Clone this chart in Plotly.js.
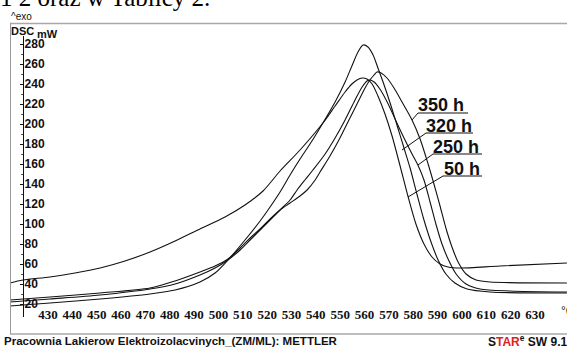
<!DOCTYPE html>
<html><head><meta charset="utf-8">
<script src="https://cdn.plot.ly/plotly-3.0.1.min.js"></script>
<style>html,body{margin:0;padding:0;background:#fff;overflow:hidden}#chart{width:567px;height:347px}</style>
</head><body><div id="chart"></div>
<script>
// ---- data (temperature °C, DSC mW) ----
const temp50  = [414.4,419.7,430.8,441.1,451.4,461.6,471.9,482.2,492.4,502.7,510.9,518.3,525.3,533.5,542.9,547.9,552.0,554.8,556.9,559.0,561.0,563.1,565.5,568.4,571.3,574.6,577.8,581.1,584.4,587.7,591.0,594.3,599.2,615.6,643.1];
const dsc50   = [41,44,47,51,56,63,72,83,95,107,119,133,153,174,201,218,232,240,244,246,245,240,228,210,188,158,128,100,80,67,60,57,56,58,61];
const temp320 = [414.4,430.8,451.4,471.9,482.2,492.4,498.6,503.9,510.9,517.1,521.2,525.3,529.4,533.5,538.4,542.9,547.9,552.0,554.8,557.3,559.4,561.4,563.5,565.5,567.6,570.5,573.3,576.2,578.7,581.5,584.4,587.3,590.2,593.4,597.1,602.1,611.5,643.1];
const dsc320  = [18,21,25,30,34,42,51,64,84,103,117,132,149,165,183,201,222,242,258,272,279,277,269,256,242,221,199,176,156,130,104,82,64,50,41,35,32,31];
const temp250 = [414.4,430.8,451.4,471.9,482.2,492.4,498.6,503.9,508.9,513.0,517.1,521.2,525.3,529.4,532.3,535.5,538.8,543.8,547.9,552.0,556.1,559.0,561.0,562.2,563.9,566.3,569.7,572.9,576.2,579.5,581.9,584.4,586.9,589.3,591.8,594.3,597.6,601.7,607.4,619.7,643.1];
const dsc250  = [22,25,29,35,40,49,56,64,74,84,94,104,114,124,134,144,154,170,186,204,224,237,243,244,242,235,220,203,186,170,159,144,122,100,80,65,50,40,35,33,32];
const temp350 = [414.4,430.8,451.4,471.9,482.2,492.4,498.6,503.9,508.9,513.0,517.1,521.2,525.3,529.4,533.5,536.4,539.7,541.7,545.8,549.9,554.0,557.3,560.2,562.2,563.9,565.1,566.8,569.2,572.1,575.4,579.5,582.8,586.1,588.5,591.0,593.4,595.9,598.4,601.7,605.8,611.5,643.1];
const dsc350  = [24,27,31,36,43,52,58,65,76,86,95,105,114,121,128,134,144,152,168,186,206,222,236,244,249,252,251,246,236,222,204,185,160,140,118,96,77,62,50,44,42,41];
const seriesNames = ['50 h','320 h','250 h','350 h'];
const xTicks = [430,440,450,460,470,480,490,500,510,520,530,540,550,560,570,580,590,600,610,620,630];
const yTicks = [20,40,60,80,100,120,140,160,180,200,220,240,260,280];
const minTicks = [40,41,42,43,44,45,46,47,48,49,50,51,52,53,54,55,56,57,58,59,60,61];

const W=567,H=347;
const px=x=>x/W, py=y=>1-y/H;

const line={color:'#111',width:1.1,shape:'spline',smoothing:0.8};
const traces=[[temp50,dsc50],[temp320,dsc320],[temp250,dsc250],[temp350,dsc350]].map((d,i)=>({
  x:d[0],y:d[1],type:'scatter',mode:'lines',name:seriesNames[i],line:line,hoverinfo:'skip'
}));

// label positions (pixel) : text centre, underline, leader end
const labs=[
  {t:'350 h',cx:441,cy:105,u0:418,u1:468,uy:113,lx:412,ly:120},
  {t:'320 h',cx:449,cy:126,u0:426,u1:473,uy:133,lx:402,ly:150},
  {t:'250 h',cx:456,cy:147,u0:433,u1:482,uy:154,lx:418,ly:165},
  {t:'50 h', cx:462,cy:169,u0:443,u1:482,uy:176,lx:408,ly:197}
];
const shapes=[
  {type:'line',xref:'paper',yref:'paper',x0:px(10),x1:1,y0:py(23.5),y1:py(23.5),line:{color:'#a8a8a8',width:1.6}},
  {type:'line',xref:'paper',yref:'paper',x0:px(10.5),x1:px(10.5),y0:py(23.5),y1:py(334),line:{color:'#9a9a9a',width:1}},
  {type:'line',xref:'paper',yref:'paper',x0:px(10),x1:1,y0:py(334),y1:py(334),line:{color:'#a8a8a8',width:1.4}}
];
const ann=[];
labs.forEach(l=>{
  shapes.push({type:'path',xref:'paper',yref:'paper',
    path:`M ${px(l.u1)} ${py(l.uy)} L ${px(l.u0)} ${py(l.uy)} L ${px(l.lx)} ${py(l.ly)}`,
    line:{color:'#111',width:1}});
  ann.push({text:l.t,xref:'paper',yref:'paper',x:px(l.cx),y:py(l.cy),showarrow:false,xanchor:'center',yanchor:'middle',
    font:{family:'Liberation Sans, Arial',size:18,weight:'bold',color:'#111'}});
});
ann.push(
  {text:'1 2 oraz w Tablicy 2.',xref:'paper',yref:'paper',x:px(-2),y:py(13),xanchor:'left',yanchor:'bottom',showarrow:false,
   font:{family:'Liberation Serif, Times New Roman',size:25,color:'#000'}},
  {text:'^exo',xref:'paper',yref:'paper',x:px(9),y:py(16),xanchor:'left',yanchor:'middle',showarrow:false,
   font:{family:'Liberation Sans, Arial',size:10,color:'#111'}},
  {text:'<b>DSC</b>',xref:'paper',yref:'paper',x:px(9),y:py(31),xanchor:'left',yanchor:'middle',showarrow:false,
   font:{family:'Liberation Sans, Arial',size:11,color:'#111'}},
  {text:'<b>mW</b>',xref:'paper',yref:'paper',x:px(35),y:py(34),xanchor:'left',yanchor:'middle',showarrow:false,
   font:{family:'Liberation Sans, Arial',size:11,color:'#111'}},
  {text:'°C',xref:'paper',yref:'paper',x:px(559),y:py(311),xanchor:'left',yanchor:'middle',showarrow:false,
   font:{family:'Liberation Sans, Arial',size:12,color:'#111'}},
  {text:'Pracownia Lakierow Elektroizolacvinych_(ZM/ML): METTLER',xref:'paper',yref:'paper',x:px(2),y:py(341),xanchor:'left',yanchor:'middle',showarrow:false,
   font:{family:'Liberation Sans, Arial',size:11.5,weight:'bold',color:'#111'}},
  {text:'S<span style="color:#e0201a">TAR</span><sup>e</sup> SW 9.1',xref:'paper',yref:'paper',x:1.003,y:py(341),xanchor:'right',yanchor:'middle',showarrow:false,
   font:{family:'Liberation Sans, Arial',size:12,weight:'bold',color:'#111'}}
);

const layout={
  width:W,height:H,margin:{l:0,r:0,t:0,b:0},paper_bgcolor:'#fff',plot_bgcolor:'rgba(0,0,0,0)',showlegend:false,
  xaxis:{domain:[px(10),1],range:[414.39,643.14],anchor:'y',showgrid:false,zeroline:false,showline:false,
    tickvals:xTicks,ticks:'',ticklabelstandoff:-12,
    tickfont:{family:'Liberation Sans Narrow, Arial Narrow',size:13,weight:'bold',color:'#111'}},
  xaxis2:{overlaying:'x',domain:[px(10),1],range:[38.95,61.45],anchor:'free',position:py(325),side:'bottom',
    showgrid:false,zeroline:false,showline:true,linecolor:'#999',linewidth:1,
    tickvals:minTicks,ticks:'outside',ticklen:3,tickcolor:'#777',
    minor:{dtick:0.1,ticks:'outside',ticklen:1.5,tickcolor:'#999'},
    tickfont:{family:'Liberation Sans, Arial',size:6,color:'#777'}},
  yaxis:{domain:[py(317),py(36)],range:[7,288],anchor:'free',position:px(23),showgrid:false,zeroline:false,
    showline:true,linecolor:'#111',linewidth:1,ticks:'outside',ticklen:3,tickcolor:'#111',
    tickvals:yTicks,ticklabelposition:'inside',
    minor:{tickvals:[30,50,70,90,110,130,150,170,190,210,230,250,270],ticks:'outside',ticklen:2,tickcolor:'#555'},
    tickfont:{family:'Liberation Sans, Arial',size:12,weight:'bold',color:'#111'}},
  shapes:shapes,annotations:ann
};
Plotly.newPlot('chart',traces,layout,{staticPlot:true,displayModeBar:false});
</script></body></html>
